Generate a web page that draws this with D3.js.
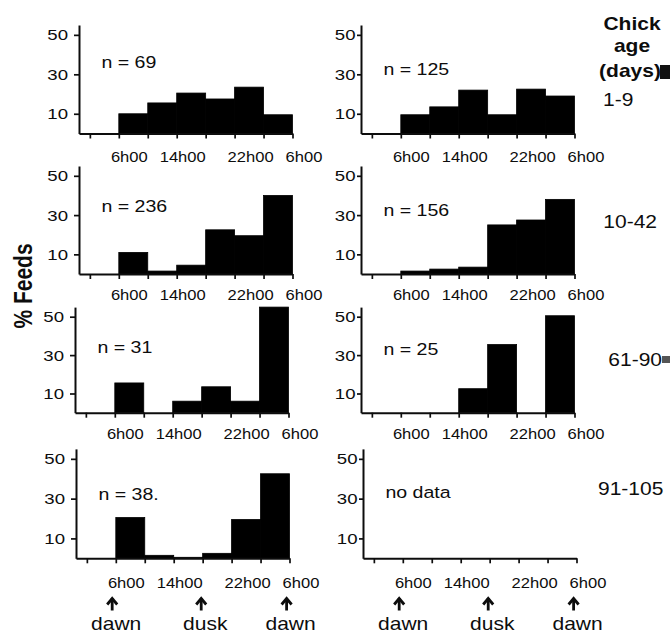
<!DOCTYPE html>
<html><head><meta charset="utf-8">
<script src="https://cdn.jsdelivr.net/npm/d3@7"></script>
<style>
body{margin:0;background:#fff;}
svg{display:block;background:#fff;}
text{font-family:"Liberation Sans",Arial,Helvetica,sans-serif;fill:#0d0d0d;}
</style>
</head><body>
<svg id="c" width="670" height="634"></svg>
<script>
// ---------------- data ----------------
const binStartHours = [6, 10, 14, 18, 22, 26];
const binWidthHours = 4;
const tickHours = [2, 6, 10, 14, 18, 22, 26, 30];
const tickLabelHours = [6, 14, 22, 30];
const tickLabels = ["6h00", "14h00", "22h00", "6h00"];
const yTicks = [10, 30, 50];
const ageGroups = ["1-9", "10-42", "61-90", "91-105"];
const sampleLabelsLeft = ["n = 69", "n = 236", "n = 31", "n = 38."];
const sampleLabelsRight = ["n = 125", "n = 156", "n = 25", "no data"];
const feedsLeft_1_9    = [10, 15.5, 20.5, 17.5, 23.5, 9.5];
const feedsLeft_10_42  = [11, 1.5, 4.5, 22.5, 19.5, 40];
const feedsLeft_61_90  = [15.5, 0, 6, 13.5, 6, 55];
const feedsLeft_91_105 = [20.5, 1.5, 0.5, 2.5, 19.5, 42.5];
const feedsRight_1_9    = [9.5, 13.5, 22, 9.5, 22.5, 19];
const feedsRight_10_42  = [1.5, 2.5, 3.5, 25, 27.5, 38];
const feedsRight_61_90  = [0, 0, 12.5, 35.5, 0, 50.5];
const feedsRight_91_105 = null; // no data
const eventLabels = ["dawn", "dusk", "dawn"];
const eventHours = [5.5, 17.8, 29.6];
const yLabel = "% Feeds";
const legendTitle = ["Chick", "age", "(days)"];

// ---------------- layout ----------------
const SX = 1.2; // horizontal stretch of the original scan
const svg = d3.select("#c");
const columns = [{x0: 79, x1: 292.5}, {x0: 361, x1: 574.5}];
const rows = [
  {base: 133.5, h: 108.5, lab: 28},
  {base: 274,   h: 108,   lab: 26},
  {base: 412.7, h: 105.6, lab: 26},
  {base: 558.3, h: 109.4, lab: 29.5}
];
const shift = [[0, 0], [0, 0], [-4, 0], [-3, 2]];
const nLabelDy = [[43, 50], [46, 49.7], [45.6, 47.9], [51, 49]];
const labelDx = [10.5, 6, 16, 11.5];

const panels = [
  [feedsLeft_1_9, feedsRight_1_9],
  [feedsLeft_10_42, feedsRight_10_42],
  [feedsLeft_61_90, feedsRight_61_90],
  [feedsLeft_91_105, feedsRight_91_105]
];
const sampleLabels = [sampleLabelsLeft, sampleLabelsRight];

function sText(parent, x, y, str, size, anchor, weight) {
  return parent.append("text")
    .attr("transform", `translate(${x},${y}) scale(${SX},1)`)
    .attr("text-anchor", anchor || "start")
    .style("font-size", size + "px")
    .style("font-weight", weight || "normal")
    .text(str);
}

const xScales = [];
rows.forEach((r, ri) => {
  columns.forEach((c, ci) => {
    const dx = shift[ri][ci];
    const x = d3.scaleLinear().domain([0.5, 30]).range([c.x0 + dx, c.x1 + dx]);
    const y = d3.scaleLinear().domain([0, 55]).range([r.base, r.base - r.h]);
    if (ri === rows.length - 1) xScales[ci] = x;
    const g = svg.append("g");
    const vals = panels[ri][ci];

    // bars
    if (vals) {
      g.selectAll("rect.bar").data(binStartHours.map((h, i) => ({h, v: vals[i]})).filter(d => d.v > 0))
        .join("rect").attr("class", "bar")
        .attr("x", d => x(d.h))
        .attr("width", d => x(d.h + binWidthHours) - x(d.h))
        .attr("y", d => y(d.v))
        .attr("height", d => y(0) - y(d.v))
        .attr("fill", "#000")
        .attr("stroke", "#000").attr("stroke-width", 0.8);
    }

    // x axis
    const xa = g.append("g").attr("transform", `translate(0,${r.base})`)
      .call(d3.axisBottom(x).tickValues(tickHours).tickFormat("").tickSize(5).tickSizeOuter(0));
    // y axis
    const tickSize = ci === 0 ? 5 : 4, pad = ci === 0 ? 6 : 1.5;
    const ya = g.append("g").attr("transform", `translate(${x(0.5)},0)`)
      .call(d3.axisLeft(y).tickValues(yTicks).tickSize(tickSize).tickPadding(pad).tickSizeOuter(0));
    ya.selectAll("text")
      .attr("x", -(tickSize + pad) / SX)
      .attr("transform", `scale(${SX},1)`)
      .style("font-size", "15.5px")
      .style("font-family", '"Liberation Sans",Arial,sans-serif')
      .attr("fill", "#0d0d0d");
    [xa, ya].forEach(a => {
      a.select(".domain").attr("stroke", "#0d0d0d").attr("stroke-width", 2);
      a.selectAll(".tick line").attr("stroke", "#0d0d0d").attr("stroke-width", 1.7);
    });

    // x tick labels
    tickLabelHours.forEach((h, i) => {
      sText(g, x(h) + labelDx[i], r.base + r.lab, tickLabels[i], 13.8, "middle");
    });

    // sample size label
    sText(g, x(3.6), r.base - r.h + nLabelDy[ri][ci], sampleLabels[ci][ri], 16.3, "start");
  });
});

// y label
svg.append("text")
  .attr("transform", `translate(32,286) scale(${SX},1) rotate(-90)`)
  .attr("text-anchor", "middle")
  .style("font-size", "21px").style("font-weight", "bold")
  .text(yLabel);

// legend title
const titleY = [30, 52, 77];
const titleX = [632, 632, 630];
legendTitle.forEach((t, i) => sText(svg, titleX[i], titleY[i], t, 17.5, "middle", "bold"));
// age group labels
const agePos = [[603, 106], [603.3, 228], [608.3, 366], [598, 495]];
ageGroups.forEach((t, i) => sText(svg, agePos[i][0], agePos[i][1], t, 17.5, "start"));
// clipped marks at right edge
svg.append("rect").attr("x", 660).attr("y", 65).attr("width", 10).attr("height", 14).attr("fill", "#111");
svg.append("rect").attr("x", 662).attr("y", 356).attr("width", 8).attr("height", 7).attr("fill", "#555");

// dawn / dusk arrows
xScales.forEach(x => {
  eventHours.forEach((h, i) => {
    const ax = x(h);
    const a = svg.append("g").attr("fill", "none").attr("stroke", "#0d0d0d").attr("stroke-width", 2.8);
    a.append("path").attr("d", `M${ax},598V610.5`);
    a.append("path").attr("d", `M${ax - 5},604.5L${ax},598.5L${ax + 5},604.5`).attr("stroke-linejoin", "miter");
    sText(svg, ax + 4, 629.5, eventLabels[i], 17.5, "middle");
  });
});
</script>
</body></html>
